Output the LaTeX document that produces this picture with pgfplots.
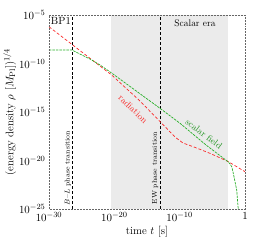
\documentclass[border=0pt]{standalone}
\usepackage{pgfplots}
\pgfplotsset{compat=1.18}
\definecolor{redc}{RGB}{250,40,40}
\definecolor{greenc}{RGB}{40,175,40}
\definecolor{shadec}{RGB}{235,235,235}
\begin{document}
\begin{tikzpicture}
\begin{axis}[name=ax,
  scale only axis, width=196bp, height=194bp,
  xmode=log, ymode=log, log basis x=10, log basis y=10,
  xmin=1e-30, xmax=1, ymin=1e-25, ymax=1e-5,
  xtick={1e-30,1e-20,1e-10,1}, xticklabels={$10^{-30}$,$10^{-20}$,$10^{-10}$,$1$},
  ytick={1e-25,1e-20,1e-15,1e-10,1e-5},
  yticklabels={$10^{-25}$,$10^{-20}$,$10^{-15}$,$10^{-10}$,$10^{-5}$},
  minor tick num=0, minor xtick={}, minor ytick={},
  tick style={draw=none},
  axis line style={gray!80!black, dash pattern=on 2pt off 1pt, line width=0.6pt},
  tick label style={font=\fontsize{11}{12}\selectfont},
  label style={font=\fontsize{11}{12}\selectfont},
  xlabel={time $t$ [s]},
  ylabel={(energy density $\rho$ [$M_{\rm Pl}$])$^{1/4}$},
  xlabel style={yshift=2pt},
  ylabel style={yshift=-4pt},
  clip=true, axis on top,
]
\fill[shadec] (axis cs:3.16e-21,1e-25) rectangle (axis cs:2.51e-3,1e-5);
\draw[black, densely dashed, line width=0.6pt] (axis cs:3.16e-27,1e-25) -- (axis cs:3.16e-27,1e-5);
\draw[black, densely dashed, line width=0.6pt] (axis cs:1.26e-13,1e-25) -- (axis cs:1.26e-13,1e-5);
\addplot[redc, line width=0.7pt, dash pattern=on 3pt off 2pt] coordinates {
(1e-30,6.17e-7) (3.98e-21,6.46e-12) (8.51e-17,1.35e-14) (1.78e-13,6.92e-17)
(1.95e-11,2.63e-18) (3.24e-10,6.31e-19) (1.23e-8,2.63e-19) (4.37e-6,5.50e-20)
(2.51e-3,7.94e-21) (1,7.08e-22)};
\addplot[greenc, line width=0.7pt, dash pattern=on 2.5pt off 1pt] coordinates {
(1e-30,2.45e-9) (3.16e-27,2.45e-9) (1.91e-24,2.88e-10) (6.46e-23,7.08e-11)
(4.37e-21,9.77e-12) (9.77e-14,2.40e-15) (1.12e-10,6.92e-17) (1.07e-6,3.98e-19)
(2.51e-3,7.59e-21) (5.01e-3,4.47e-21) (9.33e-3,2.29e-21) (1.62e-2,4.79e-22)
(5.37e-2,9.12e-24) (9.55e-2,7.94e-26)};
\node[redc, rotate=-44, font=\fontsize{9}{10}\selectfont] at (axis cs:7.2e-18,2.04e-15) {radiation};
\node[greenc!85!black, rotate=-37, font=\fontsize{9}{10}\selectfont] at (axis cs:5.4e-7,5.4e-18) {scalar field};
\node[font=\fontsize{9.5}{10}\selectfont] at (axis cs:2.2e-8,1.5e-6) {Scalar era};
\node[anchor=north west, fill=white, inner sep=1.2pt, font=\fontsize{10.5}{11}\selectfont] at (rel axis cs:0.003,0.997) {BP1};
\node[rotate=90, font=\fontsize{7}{8}\selectfont] at (axis cs:7.9e-28,1.7e-21) {$B$--$L$ phase transition};
\node[rotate=90, font=\fontsize{7}{8}\selectfont] at (axis cs:1.7e-14,1.6e-21) {EW phase transition};
\end{axis}
\pgfresetboundingbox
\path[use as bounding box] (ax.south west) ++(-49bp,-36bp) rectangle ++(263bp,245bp);
\end{tikzpicture}
\end{document}
